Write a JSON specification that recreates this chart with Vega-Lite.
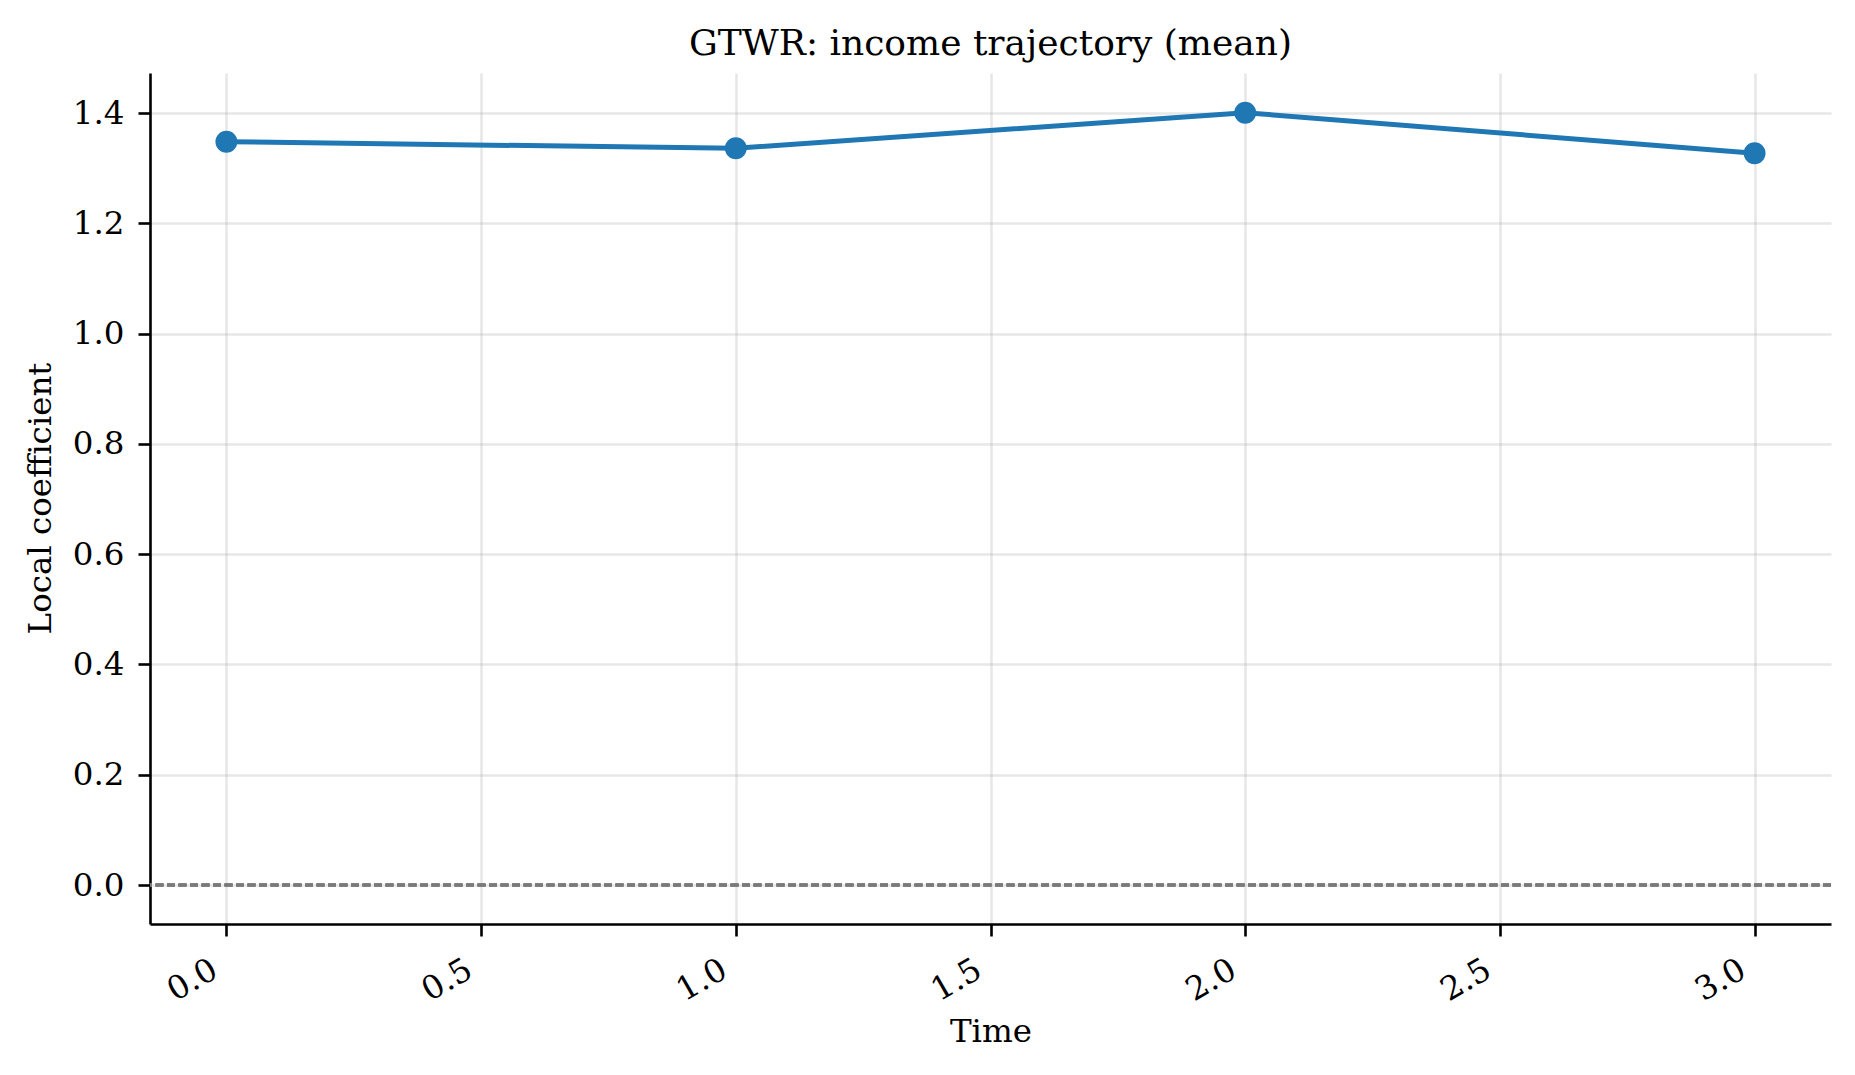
{
  "$schema": "https://vega.github.io/schema/vega-lite/v6.json",
  "description": "GTWR local coefficient for income over time (mean).",
  "width": 1681,
  "height": 851,
  "autosize": {"type": "none"},
  "padding": {"left": 150, "top": 73, "right": 24, "bottom": 151},
  "background": "white",
  "title": {
    "text": "GTWR: income trajectory (mean)",
    "font": "DejaVu Serif",
    "fontSize": 36,
    "fontWeight": "normal",
    "color": "black",
    "anchor": "middle",
    "frame": "group",
    "baseline": "alphabetic",
    "offset": -18
  },
  "config": {
    "view": {"stroke": null},
    "font": "DejaVu Serif",
    "axis": {
      "labelFont": "DejaVu Serif",
      "labelFontSize": 32.5,
      "labelColor": "black",
      "titleFont": "DejaVu Serif",
      "titleFontSize": 32.5,
      "titleFontWeight": "normal",
      "titleColor": "black",
      "domainColor": "black",
      "domainWidth": 2.6,
      "tickColor": "black",
      "tickWidth": 2.6,
      "tickSize": 12,
      "grid": true,
      "gridColor": "#b0b0b0",
      "gridOpacity": 0.3,
      "gridWidth": 2.6
    }
  },
  "data": {
    "values": [
      {"time": 0, "coef": 1.348},
      {"time": 1, "coef": 1.336},
      {"time": 2, "coef": 1.4006},
      {"time": 3, "coef": 1.327}
    ]
  },
  "layer": [
    {
      "mark": {"type": "rule", "color": "#7a7a7a", "strokeWidth": 3, "strokeDash": [8, 3.5]},
      "encoding": {
        "y": {"datum": 0, "type": "quantitative"}
      }
    },
    {
      "mark": {"type": "line", "color": "#1f77b4", "strokeWidth": 5},
      "encoding": {
        "x": {
          "field": "time",
          "type": "quantitative",
          "scale": {"domain": [-0.15, 3.15], "nice": false, "zero": false},
          "axis": {
            "title": "Time",
            "values": [0, 0.5, 1, 1.5, 2, 2.5, 3],
            "format": ".1f",
            "labelAngle": -30,
            "labelAlign": "right",
            "labelBaseline": "top",
            "labelPadding": 17,
            "labelOffset": -20,
            "titleY": 107,
            "titleBaseline": "middle"
          }
        },
        "y": {
          "field": "coef",
          "type": "quantitative",
          "scale": {"domain": [-0.0707, 1.4726], "nice": false, "zero": false},
          "axis": {
            "title": "Local coefficient",
            "values": [0, 0.2, 0.4, 0.6, 0.8, 1.0, 1.2, 1.4],
            "format": ".1f",
            "labelPadding": 14,
            "titleX": -110,
            "titleY": 425,
            "titleAngle": -90,
            "titleAlign": "center",
            "titleBaseline": "middle"
          }
        }
      }
    },
    {
      "mark": {"type": "circle", "color": "#1f77b4", "opacity": 1, "size": 480},
      "encoding": {
        "x": {"field": "time", "type": "quantitative"},
        "y": {"field": "coef", "type": "quantitative"}
      }
    }
  ]
}
